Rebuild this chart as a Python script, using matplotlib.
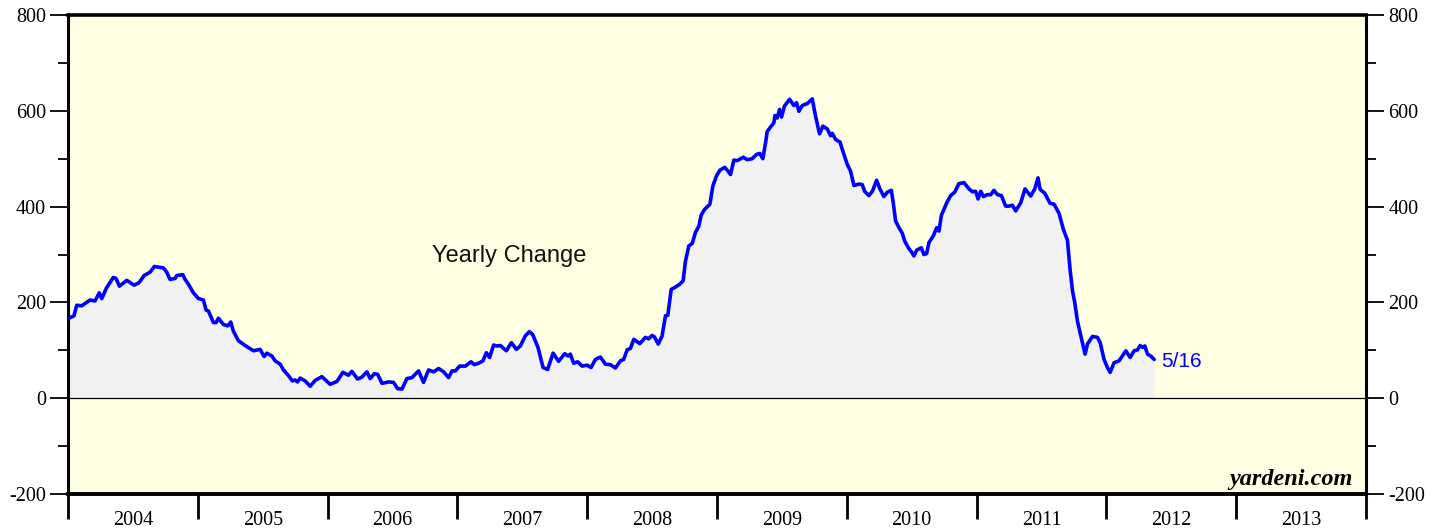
import numpy as np
import matplotlib
matplotlib.use("Agg")
import matplotlib.pyplot as plt
from matplotlib.ticker import FixedLocator, NullFormatter

# Weekly series (offset in years since 2004.0, value)
offsets = [0.000, 0.015, 0.046, 0.067, 0.106, 0.170, 0.208, 0.241, 0.260, 0.298, 0.349,
           0.370, 0.396, 0.453, 0.509, 0.547, 0.586, 0.632, 0.665, 0.735, 0.761,
           0.786, 0.825, 0.838, 0.884, 0.902, 0.928, 0.966, 1.005, 1.043, 1.064,
           1.082, 1.120, 1.141, 1.159, 1.197, 1.231, 1.254, 1.274, 1.313, 1.365,
           1.429, 1.480, 1.511, 1.532, 1.571, 1.596, 1.635, 1.660, 1.699, 1.729,
           1.750, 1.768, 1.789, 1.827, 1.866, 1.904, 1.956, 2.020, 2.072, 2.118,
           2.161, 2.187, 2.231, 2.264, 2.303, 2.328, 2.359, 2.385, 2.419, 2.470,
           2.508, 2.539, 2.573, 2.611, 2.650, 2.701, 2.739, 2.778, 2.817, 2.855,
           2.894, 2.932, 2.958, 2.984, 3.017, 3.061, 3.105, 3.130, 3.163, 3.197,
           3.223, 3.248, 3.279, 3.305, 3.331, 3.377, 3.416, 3.454, 3.485, 3.523,
           3.554, 3.580, 3.621, 3.660, 3.695, 3.737, 3.780, 3.827, 3.853, 3.870,
           3.896, 3.927, 3.961, 3.999, 4.030, 4.063, 4.102, 4.140, 4.179, 4.217,
           4.256, 4.281, 4.308, 4.333, 4.359, 4.405, 4.449, 4.474, 4.500, 4.518,
           4.547, 4.577, 4.603, 4.621, 4.647, 4.680, 4.713, 4.739, 4.757, 4.783,
           4.809, 4.834, 4.860, 4.878, 4.904, 4.945, 4.968, 4.996, 5.022, 5.060,
           5.079, 5.104, 5.130, 5.156, 5.202, 5.233, 5.271, 5.305, 5.330, 5.353,
           5.374, 5.387, 5.412, 5.438, 5.446, 5.464, 5.482, 5.497, 5.520, 5.559,
           5.592, 5.613, 5.631, 5.657, 5.695, 5.734, 5.759, 5.790, 5.816, 5.850,
           5.875, 5.888, 5.914, 5.947, 5.978, 6.004, 6.029, 6.055, 6.093, 6.119,
           6.137, 6.170, 6.197, 6.230, 6.255, 6.286, 6.312, 6.343, 6.358, 6.376,
           6.402, 6.428, 6.446, 6.479, 6.497, 6.517, 6.538, 6.574, 6.594, 6.615,
           6.633, 6.667, 6.692, 6.710, 6.729, 6.770, 6.800, 6.831, 6.864, 6.903,
           6.941, 6.968, 6.993, 7.011, 7.032, 7.052, 7.083, 7.109, 7.134, 7.160,
           7.191, 7.224, 7.250, 7.276, 7.301, 7.340, 7.373, 7.417, 7.448, 7.473,
           7.489, 7.525, 7.566, 7.597, 7.635, 7.669, 7.700, 7.720, 7.739, 7.756,
           7.777, 7.803, 7.836, 7.854, 7.893, 7.931, 7.952, 7.982, 8.008, 8.029,
           8.059, 8.098, 8.150, 8.183, 8.214, 8.240, 8.260, 8.278, 8.296, 8.317,
           8.342, 8.368]

values = [166, 168, 172, 194, 193, 205, 203, 220, 208, 231, 252,
          250, 234, 246, 236, 241, 256, 263, 275, 272, 263,
          248, 250, 256, 258, 248, 238, 220, 208, 205, 184,
          182, 158, 158, 167, 154, 151, 159, 140, 120, 110,
          99, 102, 87, 94, 88, 78, 71, 59, 47, 36,
          38, 34, 42, 36, 25, 37, 45, 29, 35, 54,
          48, 56, 40, 44, 55, 41, 51, 50, 31, 34,
          33, 20, 19, 41, 43, 57, 33, 59, 55, 62,
          55, 43, 57, 57, 67, 67, 76, 70, 73, 78,
          95, 85, 111, 109, 110, 99, 116, 102, 109, 130,
          139, 133, 106, 64, 60, 94, 77, 93, 88, 92,
          73, 76, 67, 69, 64, 81, 86, 71, 70, 63,
          78, 81, 101, 104, 123, 114, 127, 124, 131, 128,
          113, 130, 172, 173, 227, 232, 238, 245, 286, 318,
          323, 346, 359, 382, 394, 405, 443, 464, 476, 482,
          476, 467, 497, 496, 503, 498, 500, 509, 511, 500,
          533, 557, 566, 575, 590, 585, 603, 587, 610, 624,
          611, 617, 599, 611, 615, 625, 589, 552, 568, 562,
          548, 553, 540, 535, 509, 488, 474, 444, 447, 446,
          432, 423, 432, 455, 437, 421, 430, 434, 408, 370,
          356, 344, 328, 312, 306, 297, 309, 314, 300, 302,
          325, 339, 356, 349, 382, 408, 423, 430, 448, 450,
          437, 431, 432, 416, 432, 421, 425, 425, 434, 425,
          423, 401, 401, 403, 391, 408, 437, 422, 437, 460,
          436, 428, 407, 405, 386, 352, 330, 269, 224, 200,
          161, 130, 92, 113, 129, 127, 116, 81, 64, 54,
          74, 78, 99, 85, 99, 101, 110, 106, 109, 92,
          88, 81]

years = list(range(2004, 2014))
y_major = [-200, 0, 200, 400, 600, 800]
y_minor = [-100, 100, 300, 500, 700]
series_label = "Yearly Change"
last_date_label = "5/16"
source_label = "yardeni.com"

dates = 2004 + np.array(offsets)
vals = np.array(values)

W, H = 1446, 529
fig = plt.figure(figsize=(W / 100, H / 100), dpi=100)
fig.patch.set_facecolor("white")
ax = fig.add_axes([68 / W, 1 - 494 / H, (1366 - 68) / W, (494 - 15) / H])
ax.set_facecolor("#FEFEE3")

ax.fill_between(dates, 0, vals, color="#F1F1F1", linewidth=0, zorder=1)
ax.plot(dates, vals, color="#0000FF", linewidth=2.6, solid_joinstyle="round",
        solid_capstyle="round", zorder=3)
ax.axhline(0, color="black", linewidth=0.9, zorder=2)

ax.set_xlim(2004, 2014)
ax.set_ylim(-200, 800)

serif = "Liberation Serif"
# x axis: year boundary ticks, labels centered in each year
ax.xaxis.set_major_locator(FixedLocator(years + [2014]))
ax.xaxis.set_major_formatter(NullFormatter())
ax.xaxis.set_minor_locator(FixedLocator([y + 0.5 for y in years]))
ax.set_xticklabels([str(y) for y in years], minor=True)
ax.tick_params(axis="x", which="major", direction="out", length=18, width=2,
               color="black", bottom=True, top=False)
ax.tick_params(axis="x", which="minor", length=0, pad=12, labelsize=14.5)
for lab in ax.get_xticklabels(minor=True):
    lab.set_fontfamily(serif)

# y axis both sides
ax.yaxis.set_major_locator(FixedLocator(y_major))
ax.yaxis.set_minor_locator(FixedLocator(y_minor))
ax.set_yticklabels([str(v) for v in y_major])
ax.tick_params(axis="y", which="major", direction="out", length=13, width=1.3,
               left=True, right=True, labelleft=True, labelright=True,
               labelsize=14.5, pad=3)
ax.tick_params(axis="y", which="minor", direction="out", length=7, width=1.3,
               left=True, right=True)
for lab in ax.get_yticklabels():
    lab.set_fontfamily(serif)

for side in ["left", "right", "top", "bottom"]:
    ax.spines[side].set_linewidth(2.2)
    ax.spines[side].set_color("black")
ax.spines["top"].set_linewidth(2.6)
ax.spines["bottom"].set_linewidth(2.8)

ax.text(2007.40, 297, series_label, fontsize=17, family="Liberation Sans",
        ha="center", va="center", color="#111111", zorder=4)
ax.text(dates[-1] + 0.05, 76, last_date_label, fontsize=15,
        family="Liberation Sans", color="#0000FF", ha="left", va="center", zorder=4)
ax.text(0.99, 0.008, source_label, transform=ax.transAxes, fontsize=17.5,
        family=serif, fontweight="bold", fontstyle="italic",
        ha="right", va="bottom", zorder=4)

fig.savefig("out.png", dpi=100, facecolor="white")
